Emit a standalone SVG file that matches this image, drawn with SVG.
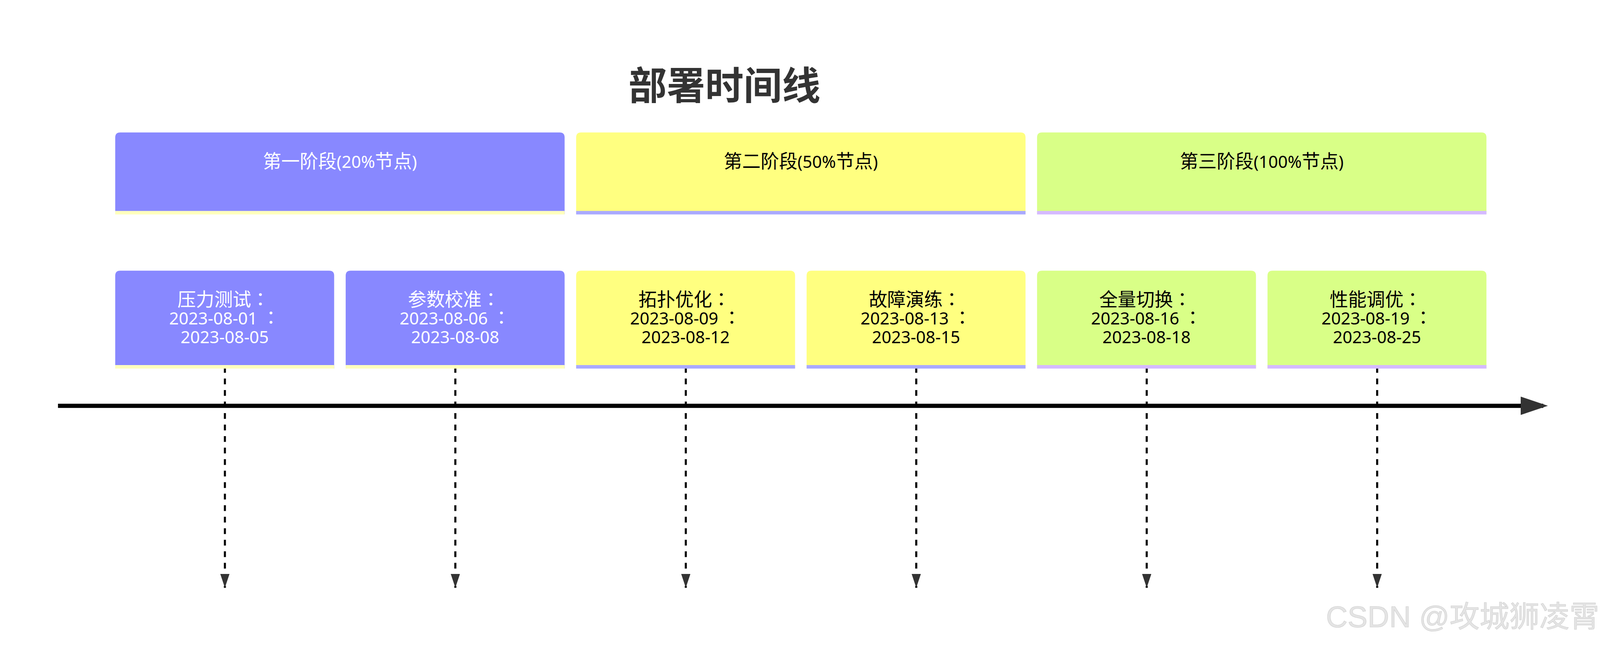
<svg xmlns="http://www.w3.org/2000/svg" width="4170" height="1675" viewBox="0 0 4170 1675">
  <style>
    text { font-family: "Noto Sans", "Noto Sans CJK SC", sans-serif; font-size: 44px; }
    .cj { font-family: "Noto Sans CJK SC", sans-serif; font-size: 48px; }
    .col { font-family: "Noto Sans CJK JP", "Noto Sans CJK SC", sans-serif; font-size: 48px; }
    .title { font-family: "Noto Sans CJK SC", sans-serif; font-size: 100px; font-weight: bold; fill: #333333; text-anchor: middle; }
    .lbl { text-anchor: middle; }
    .s0 .box { fill: #8888ff; }
    .s0 .line { stroke: #ffffbd; }
    .s0 text { fill: #ffffff; }
    .s1 .box { fill: #ffff80; }
    .s1 .line { stroke: #aaaaff; }
    .s1 text { fill: #000000; }
    .s2 .box { fill: #d9ff87; }
    .s2 .line { stroke: #d5baff; }
    .s2 text { fill: #000000; }
    .line { stroke-width: 9; }
    .axis { stroke: #000000; stroke-width: 11; fill: none; }
    .drop { stroke: #000000; stroke-width: 5.4; stroke-dasharray: 15 15; fill: none; }
    .wm { font-family: "Liberation Sans", "Noto Sans CJK SC", sans-serif; font-size: 78px; fill: #e4e4e4; stroke: #cfcfcf; stroke-width: 1; text-anchor: end; }
  </style>
  <defs>
    <marker id="arrowDown" markerUnits="userSpaceOnUse" markerWidth="36" markerHeight="24" refX="36" refY="12" orient="auto">
      <path d="M0,0 L36,12 L0,24 Z" fill="#333333"/>
    </marker>
    <marker id="arrowAxis" markerUnits="userSpaceOnUse" markerWidth="71" markerHeight="48" refX="59" refY="24" orient="auto">
      <path d="M0,0 L71,24 L0,48 Z" fill="#333333"/>
    </marker>
  </defs>
  <rect x="0" y="0" width="4170" height="1675" fill="#ffffff"/>

  <g id="diagram" transform="scale(0.98328)">
  <g id="title">
    <text class="title" x="1886" y="259">部署时间线</text>
  </g>

  <g id="connectors">
    <line class="axis" x1="151" y1="1057" x2="4018" y2="1057" marker-end="url(#arrowAxis)"/>
    <line class="drop" x1="585.5" y1="956" x2="585.5" y2="1531" marker-end="url(#arrowDown)"/>
    <line class="drop" x1="1185.5" y1="956" x2="1185.5" y2="1531" marker-end="url(#arrowDown)"/>
    <line class="drop" x1="1785.5" y1="956" x2="1785.5" y2="1531" marker-end="url(#arrowDown)"/>
    <line class="drop" x1="2385.5" y1="956" x2="2385.5" y2="1531" marker-end="url(#arrowDown)"/>
    <line class="drop" x1="2985.5" y1="956" x2="2985.5" y2="1531" marker-end="url(#arrowDown)"/>
    <line class="drop" x1="3585.5" y1="956" x2="3585.5" y2="1531" marker-end="url(#arrowDown)"/>
  </g>

  <g id="section-1" class="s0">
    <path class="box" d="M300,558 V358 Q300,345 313,345 H1457 Q1470,345 1470,358 V558 Z"/>
    <line class="line" x1="300" y1="554" x2="1470" y2="554"/>
    <text class="lbl" x="885" y="437"><tspan class="cj">第一阶段</tspan>(20%<tspan class="cj">节点</tspan>)</text>
  </g>
  <g id="section-2" class="s1">
    <path class="box" d="M1500,558 V358 Q1500,345 1513,345 H2657 Q2670,345 2670,358 V558 Z"/>
    <line class="line" x1="1500" y1="554" x2="2670" y2="554"/>
    <text class="lbl" x="2085" y="437"><tspan class="cj">第二阶段</tspan>(50%<tspan class="cj">节点</tspan>)</text>
  </g>
  <g id="section-3" class="s2">
    <path class="box" d="M2700,558 V358 Q2700,345 2713,345 H3857 Q3870,345 3870,358 V558 Z"/>
    <line class="line" x1="2700" y1="554" x2="3870" y2="554"/>
    <text class="lbl" x="3285" y="437"><tspan class="cj">第三阶段</tspan>(100%<tspan class="cj">节点</tspan>)</text>
  </g>

  <g id="task-1" class="s0">
    <path class="box" d="M300,960 V718 Q300,705 313,705 H857 Q870,705 870,718 V960 Z"/>
    <line class="line" x1="300" y1="955.5" x2="870" y2="955.5"/>
    <text class="lbl" x="582" y="797"><tspan class="cj">压力测试</tspan><tspan class="col">：</tspan></text>
    <text class="lbl" x="585" y="845">2023-08-01 <tspan class="col">：</tspan></text>
    <text class="lbl" x="585" y="894">2023-08-05</text>
  </g>
  <g id="task-2" class="s0">
    <path class="box" d="M900,960 V718 Q900,705 913,705 H1457 Q1470,705 1470,718 V960 Z"/>
    <line class="line" x1="900" y1="955.5" x2="1470" y2="955.5"/>
    <text class="lbl" x="1182" y="797"><tspan class="cj">参数校准</tspan><tspan class="col">：</tspan></text>
    <text class="lbl" x="1185" y="845">2023-08-06 <tspan class="col">：</tspan></text>
    <text class="lbl" x="1185" y="894">2023-08-08</text>
  </g>
  <g id="task-3" class="s1">
    <path class="box" d="M1500,960 V718 Q1500,705 1513,705 H2057 Q2070,705 2070,718 V960 Z"/>
    <line class="line" x1="1500" y1="955.5" x2="2070" y2="955.5"/>
    <text class="lbl" x="1782" y="797"><tspan class="cj">拓扑优化</tspan><tspan class="col">：</tspan></text>
    <text class="lbl" x="1785" y="845">2023-08-09 <tspan class="col">：</tspan></text>
    <text class="lbl" x="1785" y="894">2023-08-12</text>
  </g>
  <g id="task-4" class="s1">
    <path class="box" d="M2100,960 V718 Q2100,705 2113,705 H2657 Q2670,705 2670,718 V960 Z"/>
    <line class="line" x1="2100" y1="955.5" x2="2670" y2="955.5"/>
    <text class="lbl" x="2382" y="797"><tspan class="cj">故障演练</tspan><tspan class="col">：</tspan></text>
    <text class="lbl" x="2385" y="845">2023-08-13 <tspan class="col">：</tspan></text>
    <text class="lbl" x="2385" y="894">2023-08-15</text>
  </g>
  <g id="task-5" class="s2">
    <path class="box" d="M2700,960 V718 Q2700,705 2713,705 H3257 Q3270,705 3270,718 V960 Z"/>
    <line class="line" x1="2700" y1="955.5" x2="3270" y2="955.5"/>
    <text class="lbl" x="2982" y="797"><tspan class="cj">全量切换</tspan><tspan class="col">：</tspan></text>
    <text class="lbl" x="2985" y="845">2023-08-16 <tspan class="col">：</tspan></text>
    <text class="lbl" x="2985" y="894">2023-08-18</text>
  </g>
  <g id="task-6" class="s2">
    <path class="box" d="M3300,960 V718 Q3300,705 3313,705 H3857 Q3870,705 3870,718 V960 Z"/>
    <line class="line" x1="3300" y1="955.5" x2="3870" y2="955.5"/>
    <text class="lbl" x="3582" y="797"><tspan class="cj">性能调优</tspan><tspan class="col">：</tspan></text>
    <text class="lbl" x="3585" y="845">2023-08-19 <tspan class="col">：</tspan></text>
    <text class="lbl" x="3585" y="894">2023-08-25</text>
  </g>

  <g id="watermark">
    <text class="wm" x="4164" y="1633">CSDN @攻城狮凌霄</text>
  </g>
  </g>
</svg>
